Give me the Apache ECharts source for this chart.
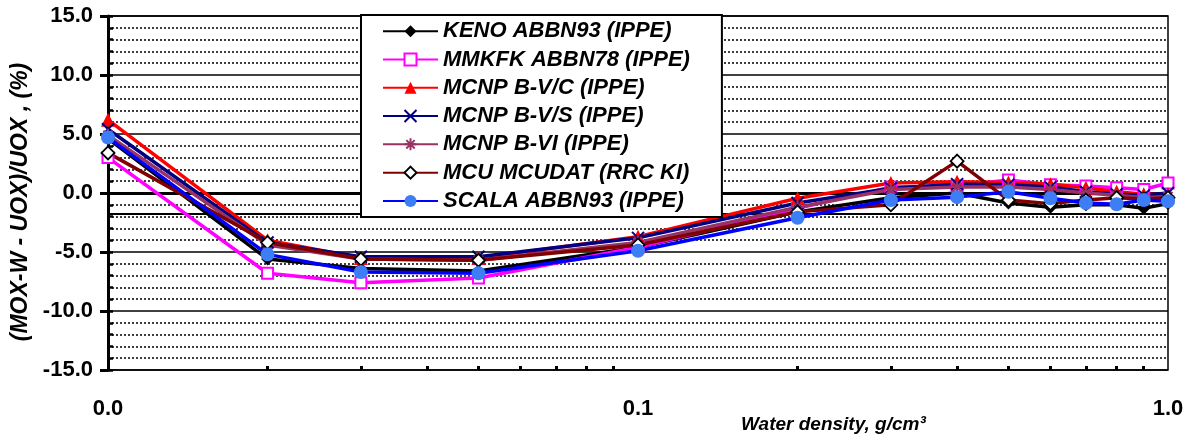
<!DOCTYPE html>
<html>
<head>
<meta charset="utf-8">
<script src="https://cdn.jsdelivr.net/npm/echarts@6/dist/echarts.min.js"></script>
<style>
  html, body { margin: 0; padding: 0; background: #fff; }
  #chart { width: 1191px; height: 442px; }
</style>
</head>
<body>
<div id="chart"></div>
<script>
// water density, g/cm3
const density = [0.01, 0.02, 0.03, 0.05, 0.1, 0.2, 0.3, 0.4, 0.5, 0.6, 0.7, 0.8, 0.9, 1.0];

// (MOX-W - UOX)/UOX, %
const keno   = [4.6, -5.6, -6.4, -6.6, -4.6, -1.6, -0.4,  0.0, -0.85, -1.2, -1.0, -1.0, -1.3, -0.9];
const mmkfk  = [3.0, -6.8, -7.6, -7.2, -4.6, -1.3,  0.5,  0.6,  1.1,  0.7,  0.6,  0.45, 0.3,  0.85];
const mcnpVC = [6.2, -4.0, -5.5, -5.5, -3.7, -0.45, 0.85, 0.95, 0.9,  0.75, 0.45, 0.1, -0.1, -0.1];
const mcnpVS = [5.4, -4.2, -5.4, -5.4, -3.8, -0.85, 0.4,  0.75, 0.7,  0.5,  0.1, -0.1, -0.2,  0.0];
const mcnpVI = [4.9, -4.4, -5.6, -5.7, -4.2, -1.2,  0.3,  0.5,  0.5,  0.3,  0.0, -0.2, -0.4, -0.3];
const mcu    = [3.4, -4.2, -5.6, -5.7, -4.4, -1.6, -1.0,  2.7, -0.6, -0.9, -0.6, -0.4, -0.5, -0.4];
const scala  = [4.7, -5.2, -6.7, -6.8, -4.9, -2.1, -0.6, -0.35, 0.1, -0.45, -0.85, -0.95, -0.6, -0.7];

const minorX = [0.02, 0.03, 0.04, 0.05, 0.06, 0.07, 0.08, 0.09, 0.2, 0.3, 0.4, 0.5, 0.6, 0.7, 0.8, 0.9];
const baseLine = -1.8;

const pairs = (ys) => density.map((x, i) => [x, ys[i]]);

const chart = echarts.init(document.getElementById('chart'));

const font = 'Liberation Sans, Arial, sans-serif';
const crossPath = 'path://M0,0L10,10M10,0L0,10';
const starPath = 'path://M5,0L5,10M0,5L10,5M1.5,1.5L8.5,8.5M8.5,1.5L1.5,8.5';

function line(name, ys, color, symbol, size, itemStyle) {
  return {
    name,
    type: 'line',
    data: pairs(ys),
    symbol,
    symbolSize: size,
    lineStyle: { color, width: 3.5 },
    itemStyle: Object.assign({ color }, itemStyle || {}),
    emphasis: { disabled: true },
    z: 3,
  };
}

const series = [
  line('KENO ABBN93 (IPPE)', keno, '#000000', 'diamond', 13),
  line('MMKFK ABBN78 (IPPE)', mmkfk, '#ff00ff', 'rect', 11, { color: '#ffffff', borderColor: '#ff00ff', borderWidth: 2 }),
  line('MCNP B-V/C (IPPE)', mcnpVC, '#ff0000', 'triangle', 14),
  line('MCNP B-V/S (IPPE)', mcnpVS, '#000080', crossPath, 12, { color: 'none', borderColor: '#000080', borderWidth: 2 }),
  line('MCNP B-VI (IPPE)', mcnpVI, '#993366', starPath, 13, { color: 'none', borderColor: '#993366', borderWidth: 2 }),
  line('MCU MCUDAT (RRC KI)', mcu, '#800000', 'diamond', 13, { color: '#ffffff', borderColor: '#000000', borderWidth: 1.8 }),
  line('SCALA ABBN93 (IPPE)', scala, '#0000ff', 'circle', 14, { color: '#3d7df5' }),
];

series[0].markLine = {
  silent: true,
  symbol: 'none',
  label: { show: false },
  lineStyle: { color: '#000', width: 2, type: 'solid' },
  data: [{ yAxis: baseLine }],
  z: 2,
};

const option = {
  animation: false,
  backgroundColor: '#fff',
  textStyle: { fontFamily: font },
  title: {
    text: 'Water density, g/cm³',
    left: 736,
    top: 410,
    textStyle: { fontFamily: font, fontSize: 19, fontWeight: 'bold', fontStyle: 'italic', color: '#000' },
  },
  grid: {
    left: 108, right: 23, top: 16, bottom: 72,
    show: true, borderColor: '#000', borderWidth: 1.5,
  },
  legend: {
    orient: 'vertical',
    left: 361,
    top: 15,
    itemWidth: 55,
    itemHeight: 15,
    itemGap: 6,
    padding: [5, 32, 5, 21],
    borderColor: '#000',
    borderWidth: 2,
    backgroundColor: '#fff',
    textStyle: { fontFamily: font, fontSize: 22, fontWeight: 'bold', fontStyle: 'italic', color: '#000', lineHeight: 22.3 },
    z: 10,
  },
  xAxis: [
    {
      type: 'log',
      logBase: 10,
      min: 0.01,
      max: 1,
      axisLine: { lineStyle: { color: '#000', width: 3 } },
      axisTick: { show: true, length: 6, lineStyle: { color: '#000', width: 3 } },
      axisLabel: {
        margin: 28,
        fontFamily: font, fontSize: 22, fontWeight: 'bold', color: '#000',
        formatter: (v) => Number(v).toFixed(1),
      },
      splitLine: { show: false },
      minorTick: { show: false },
    },
    {
      type: 'log',
      logBase: 10,
      min: 0.01,
      max: 1,
      position: 'bottom',
      axisLine: { show: false, onZero: false },
      axisTick: { show: true, inside: true, length: 4, customValues: minorX, lineStyle: { color: '#000', width: 3 } },
      axisLabel: { show: false },
      splitLine: { show: false },
    },
  ],
  yAxis: [
    {
      type: 'value',
      min: -15,
      max: 15,
      interval: 5,
      name: '(MOX-W - UOX)/UOX , (%)',
      nameLocation: 'middle',
      nameGap: 72,
      nameTextStyle: { fontFamily: font, fontSize: 23, fontWeight: 'bold', fontStyle: 'italic', color: '#000', padding: [0, 18, 0, 0] },
      axisLine: { show: true, lineStyle: { color: '#000', width: 3 } },
      axisTick: { show: true, length: 8, lineStyle: { color: '#000', width: 3 } },
      axisLabel: {
        margin: 15,
        fontFamily: font, fontSize: 22, fontWeight: 'bold', color: '#000',
        formatter: (v) => v.toFixed(1),
      },
      splitLine: { show: true, lineStyle: { color: '#000', width: 1.5 } },
      minorTick: { show: false, splitNumber: 5 },
      minorSplitLine: { show: true, lineStyle: { color: '#000', width: 1.5, type: [2, 2] } },
    },
    {
      type: 'value',
      min: -15,
      max: 15,
      interval: 1,
      position: 'left',
      axisLine: { show: false },
      axisTick: { show: true, inside: true, length: 5, lineStyle: { color: '#000', width: 2.5 } },
      axisLabel: { show: false },
      splitLine: { show: false },
    },
  ],
  series,
};

chart.setOption(option);
</script>
</body>
</html>
